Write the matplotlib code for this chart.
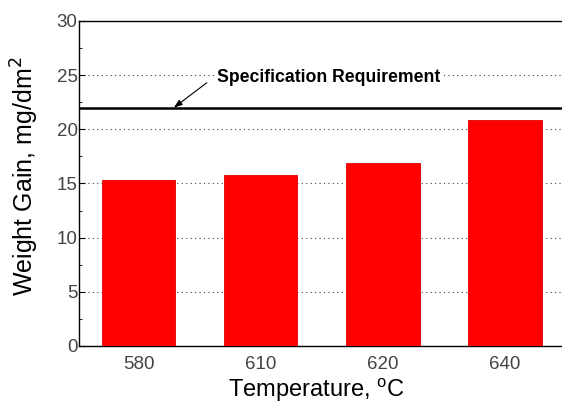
import matplotlib
matplotlib.use("Agg")
import matplotlib.pyplot as plt
from matplotlib.ticker import MultipleLocator

categories = ["580", "610", "620", "640"]
weight_gain = [15.3, 15.8, 16.9, 20.9]
spec_requirement = 22.0

plt.rcParams['font.family'] = ['Liberation Sans', 'DejaVu Sans']

fig = plt.figure(figsize=(5.62, 4.05), dpi=100)
ax = fig.add_axes([0.1406, 0.1457, 0.8665, 0.8025])

x = range(len(categories))
ax.bar(x, weight_gain, width=0.6, color="#ff0000", edgecolor="#e00000", linewidth=0.6, zorder=3)
ax.axhline(spec_requirement, color="black", linewidth=1.8, zorder=4)

ax.set_xlim(-0.49, 3.5)
ax.set_ylim(0, 30)
ax.set_xticks(list(x))
ax.set_xticklabels(categories)
ax.yaxis.set_major_locator(MultipleLocator(5))
ax.yaxis.set_minor_locator(MultipleLocator(2.5))
ax.tick_params(axis="y", which="major", direction="in", length=4, labelsize=13.5, labelcolor="#444444", pad=1)
ax.tick_params(axis="y", which="minor", direction="in", length=2.5)
ax.tick_params(axis="x", which="both", length=0, labelsize=13.5, labelcolor="#444444", pad=7)
ax.yaxis.grid(True, which="major", linestyle=(0, (1, 3)), color="#444444", linewidth=0.8, zorder=0)

for side in ["left", "bottom", "top"]:
    ax.spines[side].set_linewidth(1.0)
ax.spines["right"].set_visible(False)

ax.text(0.64, 24.8, "Specification Requirement", fontsize=12.7, fontweight="bold",
        va="center", ha="left", zorder=5,
        bbox=dict(boxstyle="square,pad=0.1", fc="white", ec="none"))
ax.annotate("", xy=(0.287, spec_requirement), xytext=(0.557, 24.3),
            arrowprops=dict(arrowstyle="-|>,head_length=0.5,head_width=0.18", color="black",
                            lw=0.8, shrinkA=0, shrinkB=0), zorder=5)

fig.text(0.0436, 0.564, "Weight Gain, mg/dm$^2$", fontsize=18, rotation=90,
         ha="center", va="center")
fig.text(0.563, 0.0198, "Temperature, $^{\\mathregular{o}}$C", fontsize=17,
         ha="center", va="baseline")

fig.savefig("out.png", dpi=100)
